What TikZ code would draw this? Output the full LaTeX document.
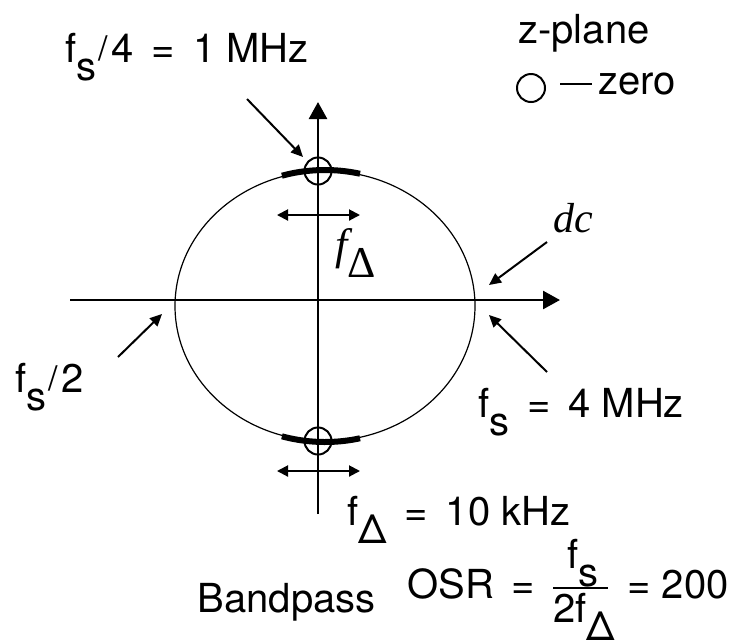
\documentclass[tikz,border=0pt]{standalone}
\usepackage{fontspec}
\setmainfont{TeX Gyre Heros}
\newfontfamily\serifit{Liberation Serif}
\usepackage{graphicx}
\usetikzlibrary{arrows.meta,calc,positioning}
\newcommand{\lowsub}[1]{\raisebox{-9pt}{#1}}
\newcommand{\fslash}{\hspace{1pt}\raisebox{1pt}{\scalebox{0.85}{/}}\hspace{2pt}}
\tikzset{
  lbl/.style={font=\fontsize{20}{24}\selectfont, inner sep=0pt, anchor=base west},
  axis/.style={line width=1.3pt, -{Triangle[length=8.5pt,width=9pt]}},
  pointer/.style={line width=1pt, -{Triangle[length=6pt,width=5.5pt]}},
  band/.style={line width=1pt, {Triangle[length=5.5pt,width=5.5pt]}-{Triangle[length=5.5pt,width=5.5pt]}},
  zero/.style={line width=1pt}
}

\begin{document}
\begin{tikzpicture}[x=0.5pt,y=-0.5pt]
                \useasboundingbox (0,0) rectangle (734,639);
                \def\cx{325}
                \def\cy{306}
                \def\rx{150}
                \def\ry{135}
                \coordinate (ztop) at (318,171);
                \coordinate (zbot) at (318,441);
                %Axis
                \coordinate (xl) at (70,300);
                \coordinate (xr) at (560,300);
                \coordinate (yb) at (318,514);
                \coordinate (yt) at (318,102);
                \draw[axis] (xl) -- (xr);
                \draw[axis] (yb) -- (yt);
                %Unit circle
                \draw[line width=0.6pt] (\cx,\cy) ellipse [x radius=\rx, y radius=\ry];
                %Pass bands
                \draw[line width=3pt] plot[domain=76.5:106.7, samples=25] ({\cx+\rx*cos(\x)},{\cy-\ry*sin(\x)-1});
                \draw[line width=3pt] plot[domain=76.5:106.7, samples=25] ({\cx+\rx*cos(\x)},{\cy+\ry*sin(\x)+1});
                %Zeros
                \draw[zero] (ztop) circle (6.75pt);
                \draw[zero] (zbot) circle (6.75pt);
                %Band width arrows
                \coordinate (bt1) at (277,215);
                \coordinate (bt2) at (360,215);
                \coordinate (bb1) at (277,471);
                \coordinate (bb2) at (360,471);
                \draw[band] (bt1) -- (bt2);
                \draw[band] (bb1) -- (bb2);
                %Labels
                \node[lbl] (quarter) at (65,62) {f\lowsub{s}\fslash 4 \,=\, 1 MHz};
                \node[lbl] (plane) at (518,43) {z-plane};
                \node[lbl] (zerotxt) at (598,94) {zero};
                \node[lbl, font=\fontsize{21}{24}\selectfont\serifit\itshape] (dc) at (553,232) {dc};
                \node[lbl, font=\fontsize{22}{26}\selectfont\serifit] (fdelta) at (335,259) {\itshape f\upshape\lowsub{Δ}};
                \node[lbl] (half) at (15,392) {f\lowsub{s}\fslash 2};
                \node[lbl] (fsamp) at (478,417) {f\lowsub{s} \,=\, 4 MHz};
                \node[lbl] (fband) at (347,525) {f\lowsub{Δ} \,=\, 10 kHz};
                \node[lbl, anchor=base east] (bp) at (376,612) {Bandpass};
                \node[lbl] (osr) at (407,598) {OSR \,=};
                \node[lbl] (num) at (567,568) {f\lowsub{s}};
                \node[lbl] (den) at (553,622) {2f\lowsub{Δ}};
                \node[lbl] (eq) at (627,598) {=};
                \node[lbl, anchor=base east] (res) at (729,598) {200};
                \draw[line width=1pt] (553,588) -- (608,588);
                %Legend
                \draw[zero] (531,88) circle (7pt);
                \draw[zero] (560,84) -- (592,84);
                %Pointers
                \coordinate (p1) at (247,99);
                \coordinate (q1) at (303,157);
                \coordinate (p2) at (547,242);
                \coordinate (q2) at (489,285);
                \coordinate (p3) at (547,372);
                \coordinate (q3) at (489,315);
                \coordinate (p4) at (118,357);
                \coordinate (q4) at (162,314);
                \draw[pointer] (p1) -- (q1);
                \draw[pointer] (p2) -- (q2);
                \draw[pointer] (p3) -- (q3);
                \draw[pointer] (p4) -- (q4);
            \end{tikzpicture}
\end{document}
